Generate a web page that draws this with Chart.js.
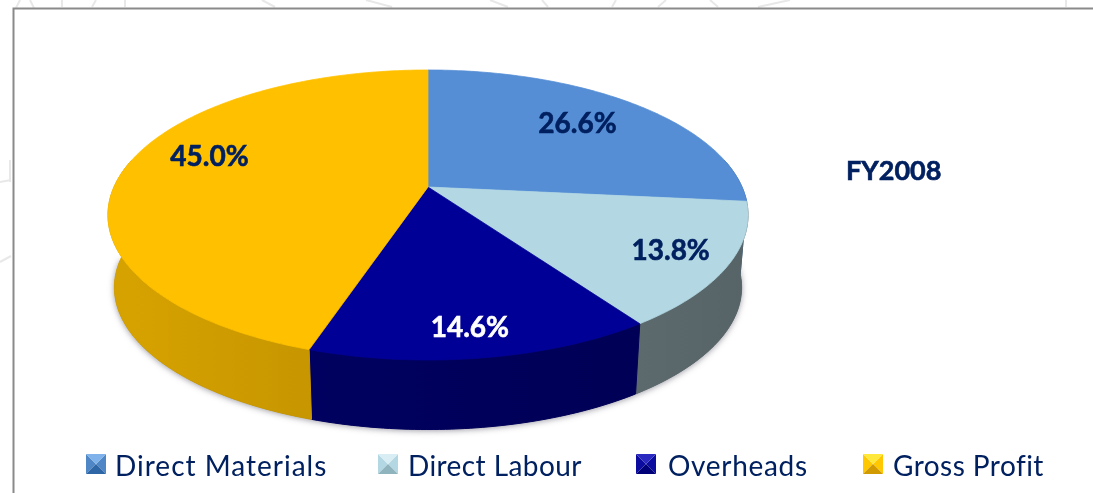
<!DOCTYPE html>
<html>
<head>
<meta charset="utf-8">
<title>FY2008</title>
<script src="https://cdn.jsdelivr.net/npm/chart.js@4"></script>
<style>
  html, body { margin: 0; padding: 0; background: #fff; overflow: hidden; }
  #wrap { position: absolute; left: 0; top: 0; width: 1093px; height: 493px; }
</style>
</head>
<body>
<div id="wrap"><canvas id="pie"></canvas></div>
<script>
const categories = ["Direct Materials", "Direct Labour", "Overheads", "Gross Profit"];
const shares = [26.6, 13.8, 14.6, 45.0];
const title = "FY2008";

const topColors = ["#558ed5", "#b3d8e3", "#000096", "#ffc000"];
const sideColors = [["#3f6ba0", "#3f6ba0"], ["#5c6a6e", "#566468"], ["#000060", "#000056"], ["#d6a200", "#c79600"]];
const swatchColors = [
  ["#7fb2ea", "#4f86c6", "#2f66a6"],
  ["#d8eef4", "#b3d8e3", "#8fb4bd"],
  ["#2a2ac0", "#0c0ca0", "#000078"],
  ["#ffe83a", "#ffc800", "#d09a00"]
];
const labelColors = ["#002060", "#002060", "#ffffff", "#002060"];
// where each percentage sits along its slice's mid radius
const labelRadius = [0.7, 0.8, 0.85, 0.72];
const labelNudgeX = [0, 8, -4, 0];
const labelNudgeY = [-3, 2, 1, -15];
const legendSwatchX = [86, 378, 636, 863];
const legendTextX = [115, 408, 668, 893];
const legendSpacing = [1.0, 0.42, 0.7, 0.45];
// faint watermark scraps showing around the frame: x0, y0, x1, y1
const scraps = [
  [16, 8, 20, 0], [34, 8, 30, 0], [62, 7, 62, 0], [92, 7, 96, 0], [125, 7, 125, 0],
  [262, 0, 275, 7], [366, 0, 392, 7], [490, 0, 508, 7], [542, 0, 548, 7], [612, 7, 616, 0],
  [658, 7, 666, 0], [710, 0, 718, 7], [758, 7, 790, 0], [1066, 7, 1066, 0], [1132, 7, 1132, 0],
  [0, 182, 11, 180], [10, 160, 10, 182], [0, 262, 11, 256]
];

const FONT = "Lato, 'Open Sans', sans-serif";
const TILT = 0.193;      // perspective of the pie plane
const STRETCH_X = 314 / 117;
const STRETCH_Y = 139.6 / 117;
const DEPTH = 73;
const BASE_SCALE = 0.98;

// angle on the flat pie -> screen point on the tilted disc
function project(arc, angle, frac, lower) {
  const X = Math.cos(angle) * frac;
  const Y = Math.sin(angle) * frac;
  const w = 1 - TILT * Y;
  const r = arc.outerRadius;
  const s = lower ? BASE_SCALE : 1;
  return {
    x: arc.x + s * r * STRETCH_X * X / w,
    y: arc.y + (lower ? DEPTH : 0) + s * r * STRETCH_Y * Y / w
  };
}

function traceRim(ctx, arc, a0, a1, lower) {
  const steps = Math.max(2, Math.ceil(Math.abs(a1 - a0) * 60));
  for (let i = 0; i <= steps; i++) {
    const p = project(arc, a0 + (a1 - a0) * i / steps, 1, lower);
    ctx.lineTo(p.x, p.y);
  }
}

// calibri-ish heavy text: fill plus a thin outline
function heavyText(ctx, text, x, y, color) {
  ctx.fillStyle = color;
  ctx.strokeStyle = color;
  ctx.lineWidth = 0.6;
  ctx.fillText(text, x, y);
  ctx.strokeText(text, x, y);
}

const tiltedPie = {
  id: "tiltedPie",
  beforeDatasetsDraw(chart) {
    const ctx = chart.ctx;
    const arcs = chart.getDatasetMeta(0).data;

    // watermark scraps
    ctx.save();
    ctx.strokeStyle = "#e8e8e8";
    ctx.lineWidth = 2;
    scraps.forEach(s => {
      ctx.beginPath();
      ctx.moveTo(s[0], s[1]);
      ctx.lineTo(s[2], s[3]);
      ctx.stroke();
    });
    ctx.restore();

    // frame
    ctx.save();
    ctx.strokeStyle = "#8a8a8a";
    ctx.lineWidth = 2;
    ctx.beginPath();
    ctx.moveTo(13.5, 493);
    ctx.lineTo(13.5, 8.5);
    ctx.lineTo(1093, 8.5);
    ctx.stroke();
    ctx.restore();

    // soft shadow under the whole drum
    ctx.save();
    ctx.shadowColor = "rgba(60,60,80,0.55)";
    ctx.shadowBlur = 6;
    ctx.shadowOffsetY = 1;
    ctx.fillStyle = "#555";
    ctx.beginPath();
    traceRim(ctx, arcs[0], 0, Math.PI, true);
    ctx.closePath();
    ctx.fill();
    ctx.restore();

    // side walls, only the part of the rim facing the viewer
    arcs.forEach((arc, i) => {
      let a0 = arc.startAngle;
      let a1 = arc.endAngle;
      a0 = Math.max(a0, -0.2);
      a1 = Math.min(a1, Math.PI + 0.2);
      if (a1 <= a0) return;
      const left = project(arc, a1, 1, false).x;
      const right = project(arc, a0, 1, false).x;
      const g = ctx.createLinearGradient(left, 0, right, 0);
      g.addColorStop(0, sideColors[i][0]);
      g.addColorStop(1, sideColors[i][1]);
      ctx.fillStyle = g;
      ctx.strokeStyle = g;
      ctx.lineWidth = 1;
      ctx.beginPath();
      traceRim(ctx, arc, a0, a1, false);
      traceRim(ctx, arc, a1, a0, true);
      ctx.closePath();
      ctx.fill();
      ctx.stroke();
    });

    // top faces
    arcs.forEach((arc, i) => {
      ctx.fillStyle = topColors[i];
      ctx.strokeStyle = topColors[i];
      ctx.lineWidth = 0.75;
      ctx.beginPath();
      ctx.moveTo(arc.x, arc.y);
      traceRim(ctx, arc, arc.startAngle, arc.endAngle, false);
      ctx.closePath();
      ctx.fill();
      ctx.stroke();
    });

    // percentages
    ctx.font = "bold 28px " + FONT;
    ctx.textAlign = "center";
    ctx.textBaseline = "middle";
    arcs.forEach((arc, i) => {
      const mid = (arc.startAngle + arc.endAngle) / 2;
      const p = project(arc, mid, labelRadius[i], false);
      heavyText(ctx, shares[i].toFixed(1) + "%", p.x + labelNudgeX[i], p.y + labelNudgeY[i], labelColors[i]);
    });

    // title on the right
    ctx.font = "bold 27px " + FONT;
    ctx.textAlign = "left";
    heavyText(ctx, title, 846, 171, "#002060");

    // legend
    categories.forEach((name, i) => {
      const x = legendSwatchX[i], y = 454, s = 20;
      const c = swatchColors[i];
      const tri = (color, pts) => {
        ctx.fillStyle = color;
        ctx.beginPath();
        pts.forEach(pt => ctx.lineTo(pt[0], pt[1]));
        ctx.closePath();
        ctx.fill();
      };
      const m = [x + s / 2, y + s / 2];
      tri(c[1], [[x, y], [x, y + s], m]);
      tri(c[1], [[x + s, y], [x + s, y + s], m]);
      tri(c[0], [[x, y], [x + s, y], m]);
      tri(c[2], [[x, y + s], [x + s, y + s], m]);
      ctx.fillStyle = "#002060";
      ctx.font = "28px " + FONT;
      ctx.textAlign = "left";
      ctx.letterSpacing = legendSpacing[i] + "px";
      ctx.fillText(name, legendTextX[i], 467);
      ctx.letterSpacing = "0px";
    });

    return false; // arcs already painted, skip the flat ones
  }
};

new Chart(document.getElementById("pie"), {
  type: "pie",
  data: {
    labels: categories,
    datasets: [{ data: shares, backgroundColor: topColors, borderWidth: 0, hoverOffset: 0 }]
  },
  options: {
    responsive: true,
    maintainAspectRatio: false,
    animation: false,
    layout: { padding: { top: 70, bottom: 189, left: 311, right: 548 } },
    plugins: { legend: { display: false }, tooltip: { enabled: false } }
  },
  plugins: [tiltedPie]
});
</script>
</body>
</html>
